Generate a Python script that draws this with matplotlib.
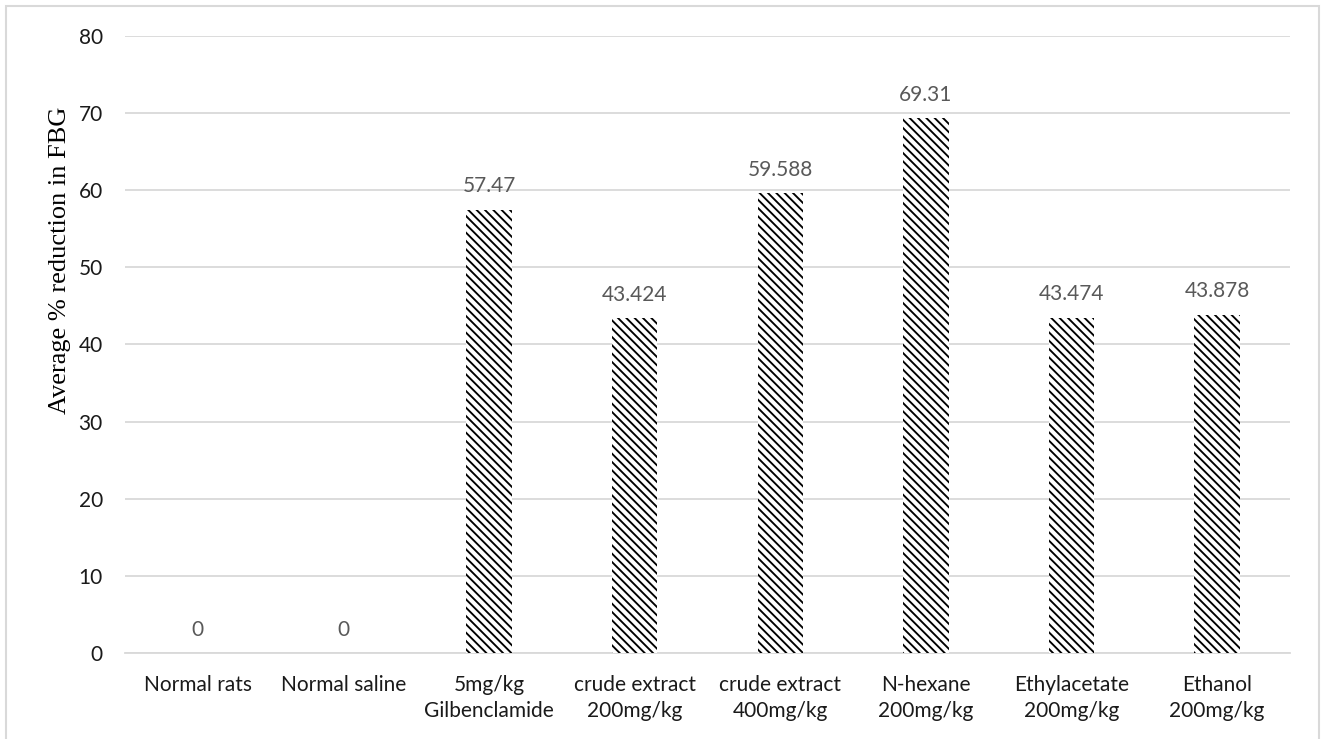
import matplotlib
matplotlib.use("Agg")
import matplotlib.pyplot as plt
from matplotlib.patches import Rectangle

categories = ["Normal rats", "Normal saline", "5mg/kg\nGilbenclamide",
              "crude extract\n200mg/kg", "crude extract\n400mg/kg",
              "N-hexane\n200mg/kg", "Ethylacetate\n200mg/kg", "Ethanol\n200mg/kg"]
values = [0, 0, 57.47, 43.424, 59.588, 69.31, 43.474, 43.878]
value_labels = ["0", "0", "57.47", "43.424", "59.588", "69.31", "43.474", "43.878"]
y_ticks = [0, 10, 20, 30, 40, 50, 60, 70, 80]

plt.rcParams['hatch.linewidth'] = 1.35
sans = "Lato"
fs = 15

fig = plt.figure(figsize=(13.27, 7.39), dpi=100)
ax = fig.add_axes([0.0942, 0.1164, 0.8779, 0.8349])

x = list(range(len(categories)))
ax.bar(x, values, width=0.313, color="white", edgecolor="black",
       linewidth=0, hatch="\\\\\\\\", zorder=3)

for xi, v, lab in zip(x, values, value_labels):
    ax.annotate(lab, (xi, v), xytext=(0, 12.5), textcoords="offset points",
                ha="center", va="baseline", fontsize=fs, color="#595959",
                family=sans)

ax.set_xlim(-0.5, len(categories) - 0.5)
ax.set_ylim(0, 80)
ax.set_yticks(y_ticks)
ax.set_xticks(x)
ax.set_xticklabels(categories, fontsize=fs, color="#1a1a1a", family=sans,
                   linespacing=1.35)
ax.set_yticklabels([str(t) for t in y_ticks], fontsize=fs, color="#1a1a1a",
                   family=sans)
ax.tick_params(axis="both", length=0)
ax.tick_params(axis="y", pad=16)
ax.tick_params(axis="x", pad=16)

ax.grid(axis="y", color="#d9d9d9", linewidth=1.3, zorder=0)
for side in ("left", "right", "top"):
    ax.spines[side].set_visible(False)
ax.spines["bottom"].set_color("#d9d9d9")
ax.spines["bottom"].set_linewidth(1.3)

fig.text(60 / 1327, 1 - 260 / 739, "Average % reduction in FBG",
         family="Liberation Serif", fontsize=19, color="black",
         rotation=90, ha="center", va="center")

fig.patches.append(Rectangle((6 / 1327, -0.05), (1319 - 6) / 1327, 1.05 - 6 / 739,
                             transform=fig.transFigure, fill=False,
                             edgecolor="#d9d9d9", linewidth=1.5))

fig.savefig("out.png", dpi=100)
